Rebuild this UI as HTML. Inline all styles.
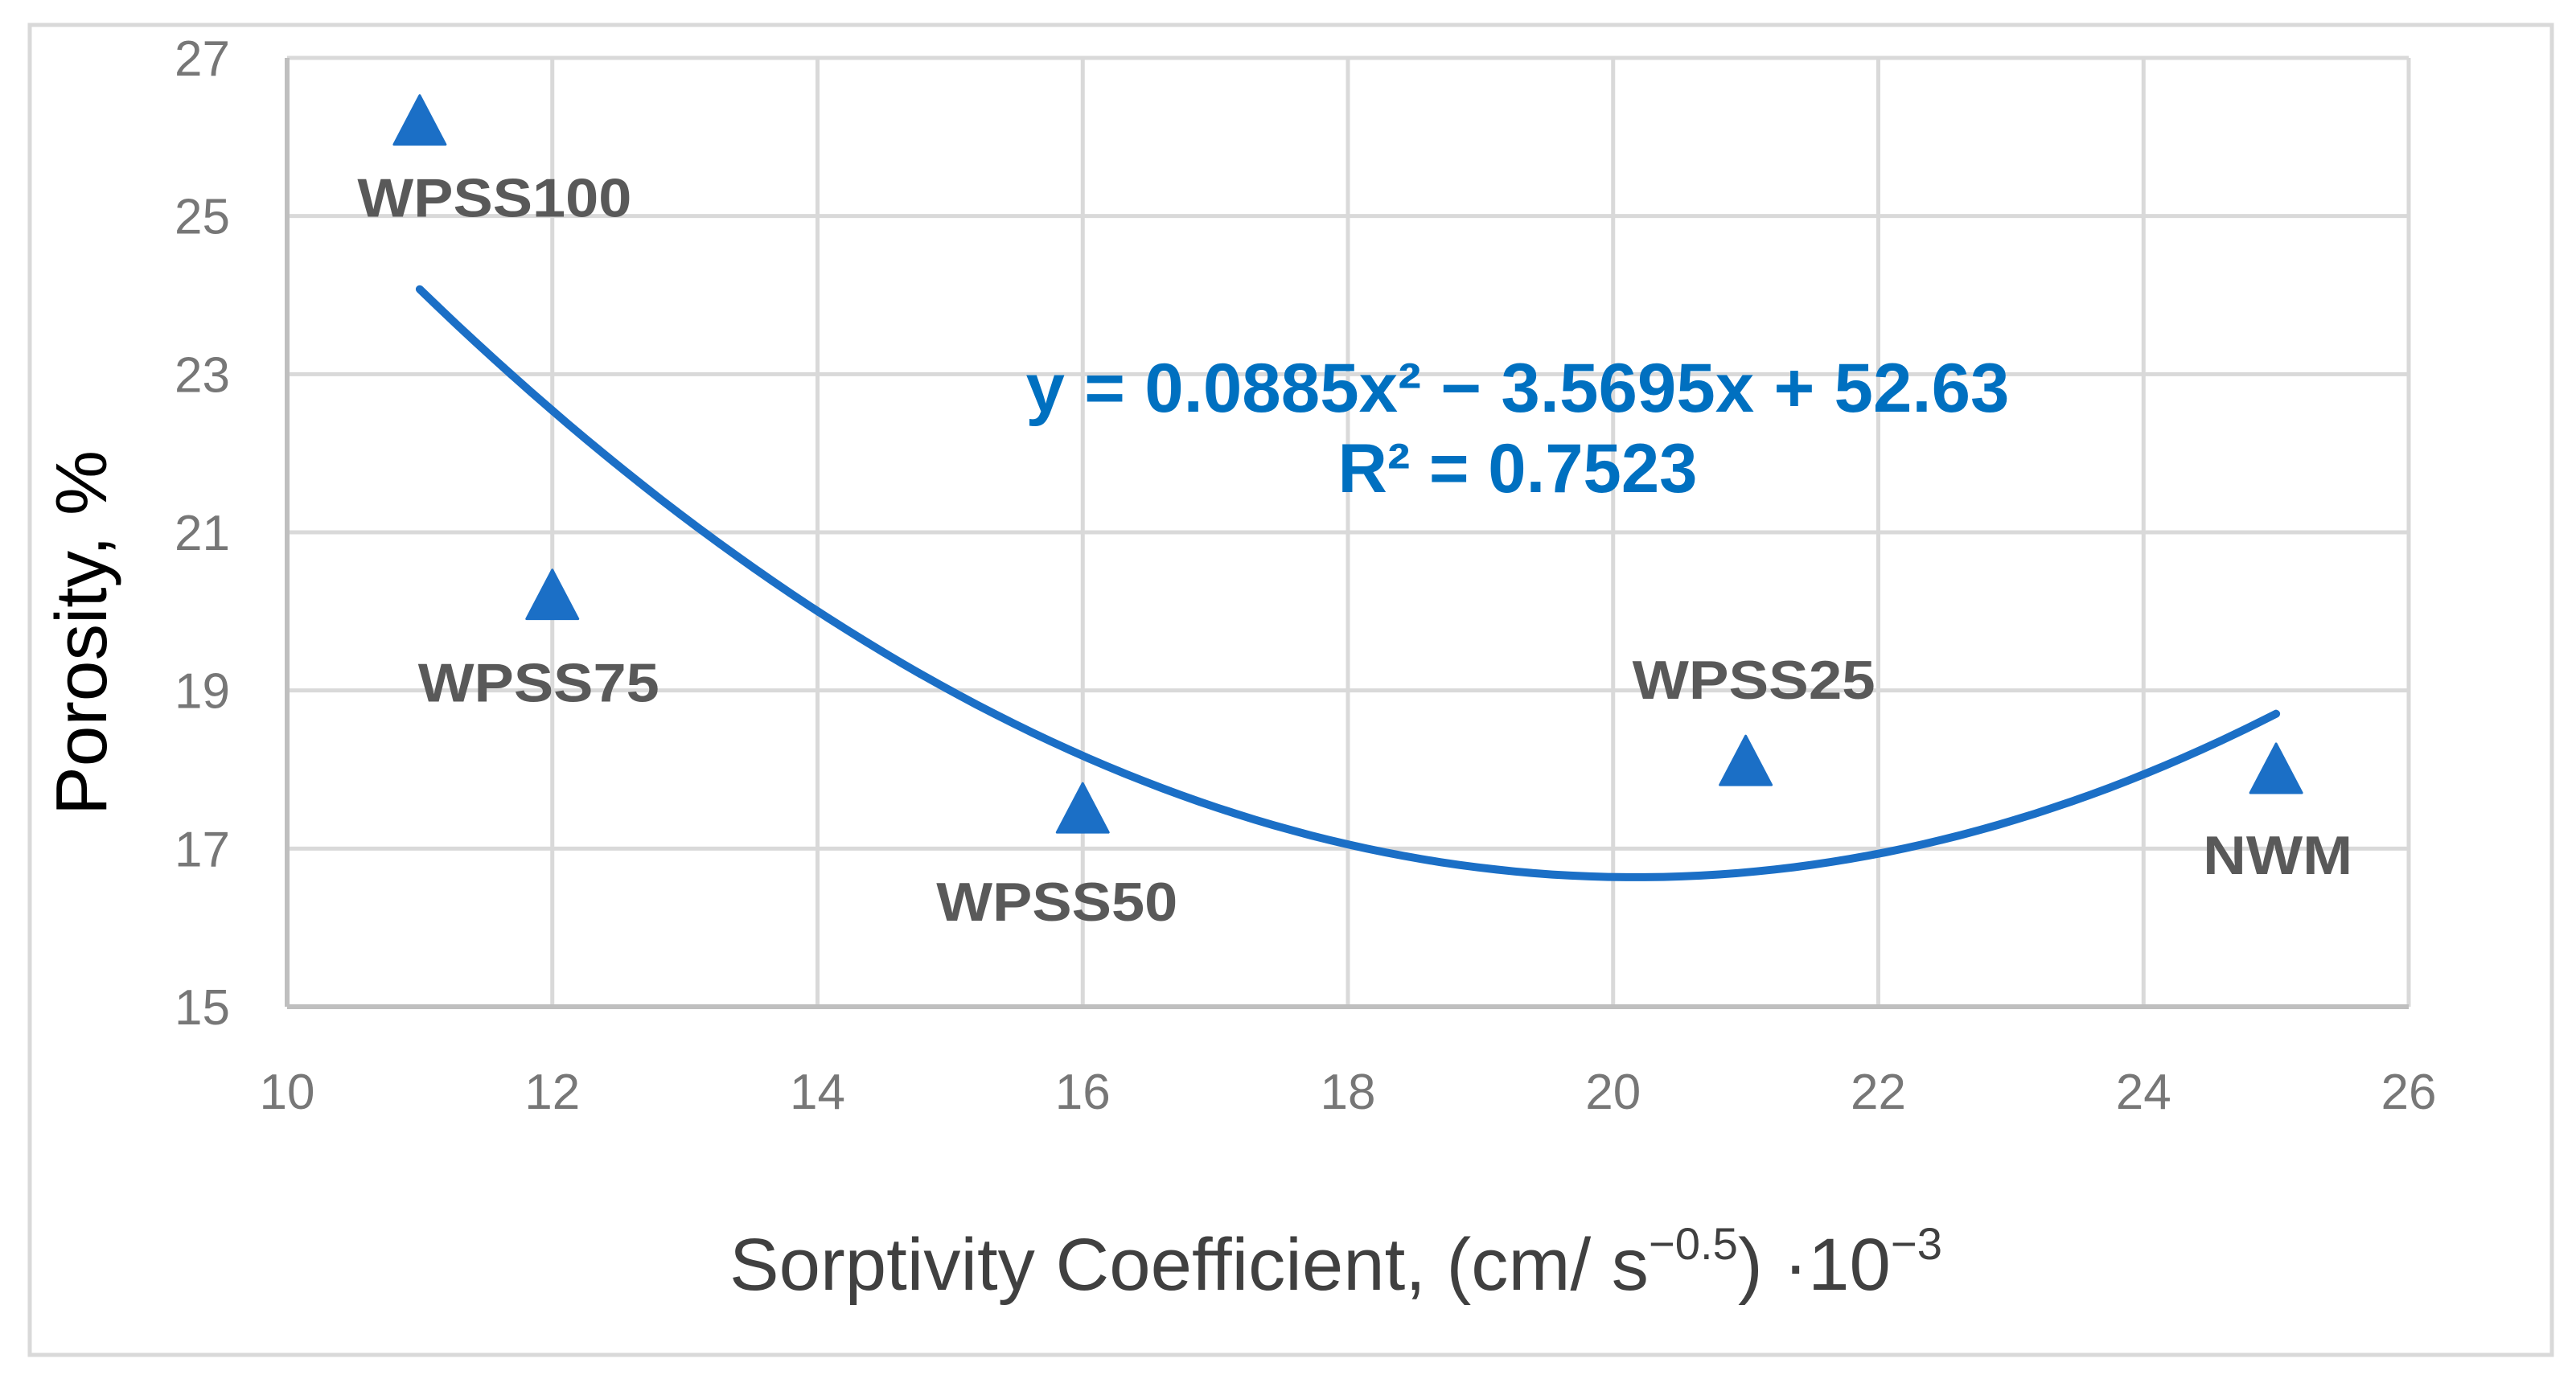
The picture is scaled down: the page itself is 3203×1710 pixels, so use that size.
<!DOCTYPE html>
<html><head><meta charset="utf-8"><style>
html,body{margin:0;padding:0;background:#fff}
svg{display:block}
text{font-family:"Liberation Sans",Arial,sans-serif}
</style></head><body>
<svg id="chart" width="3203" height="1710" viewBox="0 0 3203 1710" xmlns="http://www.w3.org/2000/svg">
<rect x="37" y="31" width="3136" height="1654" fill="#fff" stroke="#d9d9d9" stroke-width="5"/>
<g id="grid"></g>
<g id="axes"></g>
<path id="trend" fill="none" stroke="#1b6fc6" stroke-width="10" stroke-linecap="round"/>
<g id="points"></g>
<g id="labels"></g>
<text x="1887" y="512" text-anchor="middle" font-size="86" font-weight="bold" fill="#0070c0" textLength="1223" lengthAdjust="spacingAndGlyphs">y = 0.0885x² − 3.5695x + 52.63</text>
<text x="1887" y="612" text-anchor="middle" font-size="86" font-weight="bold" fill="#0070c0" textLength="447" lengthAdjust="spacingAndGlyphs">R² = 0.7523</text>
<text x="1661" y="1604" text-anchor="middle" font-size="92" fill="#404040" textLength="1508" lengthAdjust="spacingAndGlyphs">Sorptivity Coefficient, (cm/ s<tspan font-size="56" dy="-38">−0.5</tspan><tspan dy="38">) ·10</tspan><tspan font-size="56" dy="-38">−3</tspan></text>
<text transform="translate(132,787) rotate(-90)" text-anchor="middle" font-size="90" fill="#000" textLength="454" lengthAdjust="spacingAndGlyphs">Porosity, %</text>
</svg>
<script>
const xTicks = [10,12,14,16,18,20,22,24,26];
const yTicks = [15,17,19,21,23,25,27];
const sampleNames = ["WPSS100","WPSS75","WPSS50","WPSS25","NWM"];
const sorptivity = [11,12,16,21,25];
const porosity = [26.2,20.2,17.5,18.1,18.0];
const trendCoef = [0.0885,-3.5695,52.63];
const trendRange = [11,25];

const NS="http://www.w3.org/2000/svg";
const L=357,R=2995,T=72,B=1252;
const xMin=10,xMax=26,yMin=15,yMax=27;
function sx(v){return L+(v-xMin)/(xMax-xMin)*(R-L);}
function sy(v){return T+(yMax-v)/(yMax-yMin)*(B-T);}
function mk(tag,attrs,parent){const e=document.createElementNS(NS,tag);for(const k in attrs)e.setAttribute(k,attrs[k]);parent.appendChild(e);return e;}
const grid=document.getElementById('grid'),axes=document.getElementById('axes');
xTicks.forEach(v=>{
  const g=mk('line',{x1:sx(v),x2:sx(v),y1:T,y2:B,stroke:'#d9d9d9','stroke-width':5},grid);
  
  
  const t=mk('text',{x:sx(v),y:1379,'text-anchor':'middle','font-size':62,fill:'#777'},axes);
  t.textContent=v;
  
  
});
yTicks.forEach(v=>{
  const g=mk('line',{x1:L,x2:R,y1:sy(v),y2:sy(v),stroke:'#d9d9d9','stroke-width':5},grid);
  
  
  const t=mk('text',{x:286,y:sy(v)+22,'text-anchor':'end','font-size':62,fill:'#777'},axes);
  t.textContent=v;
  
  
});
const xa=mk('line',{x1:L,x2:R,y1:B,y2:B,stroke:'#bfbfbf','stroke-width':6},axes);


const ya=mk('line',{x1:L,x2:L,y1:T,y2:B,stroke:'#bfbfbf','stroke-width':6},axes);


// trendline
let d='';
for(let i=0;i<=100;i++){const x=trendRange[0]+(trendRange[1]-trendRange[0])*i/100;const y=trendCoef[0]*x*x+trendCoef[1]*x+trendCoef[2];d+=(i?'L':'M')+sx(x).toFixed(1)+','+sy(y).toFixed(1);}
document.getElementById('trend').setAttribute('d',d);
// points & labels
const pts=document.getElementById('points'),lbs=document.getElementById('labels');
const off=[[93,94,341],[-17,107,300],[-32,114,300],[10,-103,302],[2,105,186]];
sorptivity.forEach((xv,i)=>{
  const cx=sx(xv),cy=sy(porosity[i]);
  const p=mk('path',{d:`M${cx},${cy-32} L${cx+32},${cy+29} L${cx-32},${cy+29} Z`,fill:'#1b6fc6',stroke:'#1b6fc6','stroke-width':3,'stroke-linejoin':'round'},pts);
  
  
  const t=mk('text',{x:cx+off[i][0],y:cy+off[i][1]+25,'text-anchor':'middle','font-size':68,'font-weight':'bold',fill:'#595959',textLength:off[i][2],lengthAdjust:'spacingAndGlyphs'},lbs);
  t.textContent=sampleNames[i];
  
  
});
</script>
</body></html>
